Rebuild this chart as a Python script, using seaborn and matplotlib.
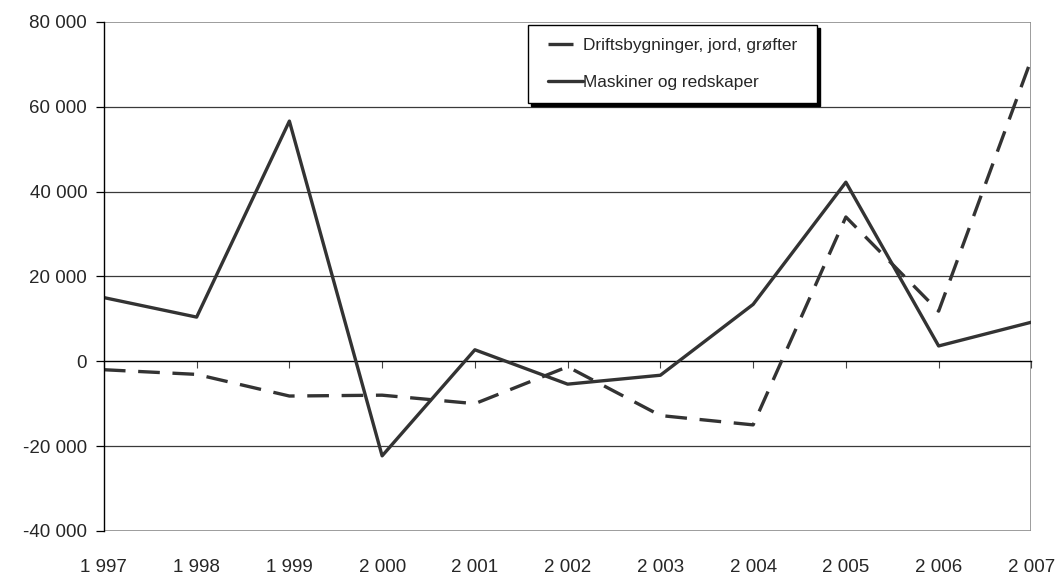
import numpy as np
import pandas as pd
import matplotlib
matplotlib.use("Agg")
import matplotlib.pyplot as plt
import seaborn as sns
from matplotlib.patches import Rectangle
from matplotlib.legend_handler import HandlerLine2D

sns.set_theme(style="white")
plt.rcParams["font.family"] = ["Liberation Sans", "DejaVu Sans"]

# ---------------------------------------------------------------------------
# data
# ---------------------------------------------------------------------------
years = [1997, 1998, 1999, 2000, 2001, 2002, 2003, 2004, 2005, 2006, 2007]
drift = [-2000, -3100, -8200, -8000, -10000, -1300, -12800, -15000, 34000, 11800, 71200]
maskiner = [15000, 10400, 56600, -22300, 2700, -5400, -3300, 13400, 42200, 3600, 9200]

lab_drift = "Driftsbygninger, jord, grøfter"
lab_mask = "Maskiner og redskaper"

yticks = [-40000, -20000, 0, 20000, 40000, 60000, 80000]

df = pd.concat([
    pd.DataFrame({"year": years, "value": drift, "serie": lab_drift}),
    pd.DataFrame({"year": years, "value": maskiner, "serie": lab_mask}),
])

# ---------------------------------------------------------------------------
# plot
# ---------------------------------------------------------------------------
fig = plt.figure(figsize=(10.6, 5.74), dpi=100)
ax = fig.add_axes([0.098, 0.075, 0.875, 0.887])

col = "#333333"
sns.lineplot(data=df, x="year", y="value", hue="serie", style="serie",
             palette={lab_drift: col, lab_mask: col},
             dashes={lab_drift: (6.5, 3.8), lab_mask: ""},
             linewidth=2.4, ax=ax, legend=False, zorder=3)

ax.set_xlim(years[0], years[-1])
ax.set_ylim(yticks[0], yticks[-1])
ax.set_xlabel("")
ax.set_ylabel("")

# horizontal gridlines
for v in yticks[1:-1]:
    if v != 0:
        ax.axhline(v, color="#3a3a3a", lw=0.9, zorder=1)

# plot-area border (grey) like Excel
for s in ax.spines.values():
    s.set_visible(False)
ax.add_patch(Rectangle((0, 0), 1, 1, transform=ax.transAxes, fill=False,
                       edgecolor="#8c8c8c", lw=1.2, zorder=2))
ax.spines["left"].set_visible(True)
ax.spines["left"].set_color("black")
ax.spines["left"].set_linewidth(1.0)
ax.spines["left"].set_zorder(4)

# category axis crossing at 0, labels kept at the bottom
ax.spines["bottom"].set_visible(True)
ax.spines["bottom"].set_position(("data", 0))
ax.spines["bottom"].set_color("black")
ax.spines["bottom"].set_linewidth(1.0)
ax.set_xticks(years)
ax.tick_params(axis="x", direction="out", length=5, width=0.8,
               color="#444444", labelbottom=False, bottom=True)

sec = ax.secondary_xaxis("bottom")
sec.set_xticks(years)
sec.set_xticklabels([f"{y:,}".replace(",", " ") for y in years])
sec.tick_params(length=0, pad=20, labelsize=13.5)
sec.spines["bottom"].set_visible(False)

ax.set_yticks(yticks)
ax.set_yticklabels([f"{v:,}".replace(",", " ") for v in yticks])
ax.tick_params(axis="y", direction="out", length=6, width=0.9,
               color="black", labelsize=13.5, pad=6, left=True)

# legend (Excel style: short handles, black drop shadow)
handles = [
    plt.Line2D([], [], color=col, lw=2.4, dashes=(7.5, 10)),
    plt.Line2D([], [], color=col, lw=2.4),
]
x0, y1 = 528 / 1060, 1 - 25 / 574
w = (817 - 528) / 1060
leg = fig.legend(handles, [lab_drift, lab_mask], loc="upper left",
                 bbox_to_anchor=(x0, y1 - 0.2, w, 0.2), mode="expand",
                 frameon=True, fancybox=False,
                 shadow={"color": "black", "alpha": 1},
                 edgecolor="black", fontsize=12.4, handlelength=2.45,
                 handletextpad=0.0, labelspacing=1.3, borderpad=0.75,
                 borderaxespad=0,
                 handler_map={plt.Line2D: HandlerLine2D(xpad=0.41)})
leg.get_frame().set_linewidth(1.0)

fig.savefig("out.png", dpi=100)
